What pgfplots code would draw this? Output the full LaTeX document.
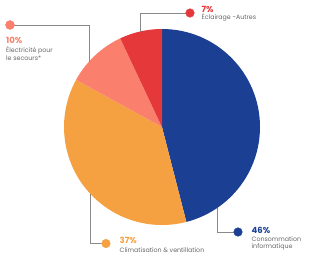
\documentclass[border=0pt]{standalone}
\usepackage{pgfplots}
\pgfplotsset{compat=1.18}
\usepackage{fontspec}
\setmainfont{Poppins}
\definecolor{cblue}{HTML}{1B3F93}
\definecolor{corange}{HTML}{F5A142}
\definecolor{csalmon}{HTML}{FA7F6C}
\definecolor{cred}{HTML}{E5383B}
\definecolor{cgrey}{HTML}{666666}
\definecolor{cline}{HTML}{8A8A8A}
\begin{document}
\begin{tikzpicture}
\begin{axis}[hide axis, scale only axis, width=330bp, height=255bp,
  xmin=0, xmax=330, ymin=0, ymax=255, y dir=reverse, clip=false]
% pie slices: 46, 37, 10, 7 (clockwise from top)
\fill[cblue]    (axis cs:162,127) -- ++(90:98bp)     arc[start angle=90,     end angle=-75.6,  radius=98bp] -- cycle;
\fill[corange]  (axis cs:162,127) -- ++(-75.6:98bp)  arc[start angle=-75.6,  end angle=-208.8, radius=98bp] -- cycle;
\fill[csalmon]  (axis cs:162,127) -- ++(-208.8:98bp) arc[start angle=-208.8, end angle=-244.8, radius=98bp] -- cycle;
\fill[cred]     (axis cs:162,127) -- ++(-244.8:98bp) arc[start angle=-244.8, end angle=-270,   radius=98bp] -- cycle;
% leader lines
\addplot[cline, line width=0.8pt] coordinates {(140,32) (140,13) (190,13)};
\addplot[cline, line width=0.8pt] coordinates {(10,25) (89,25) (89,62)};
\addplot[cline, line width=0.8pt] coordinates {(90,194) (90,243.5) (106,243.5)};
\addplot[cline, line width=0.8pt] coordinates {(217,208) (217,232) (238,232)};
% dots
\addplot[only marks, mark=*, mark size=4.3bp, cred, mark options={draw=cred, fill=cred}] coordinates {(190,13)};
\addplot[only marks, mark=*, mark size=4.5bp, csalmon, mark options={draw=csalmon, fill=csalmon}] coordinates {(10,25)};
\addplot[only marks, mark=*, mark size=4.3bp, corange, mark options={draw=corange, fill=corange}] coordinates {(106,243.5)};
\addplot[only marks, mark=*, mark size=4.3bp, cblue, mark options={draw=cblue, fill=cblue}] coordinates {(238,232)};
% labels
\node[anchor=west, inner sep=0pt, text=cred, font=\fontsize{8.5bp}{9bp}\selectfont\bfseries] at (axis cs:201.5,9) {7\%};
\node[anchor=west, inner sep=0pt, text=cgrey, font=\fontsize{6.3bp}{7bp}\selectfont] at (axis cs:201.5,17.5) {Éclairage -Autres};
\node[anchor=west, inner sep=0pt, text=csalmon, font=\fontsize{8.5bp}{9bp}\selectfont\bfseries] at (axis cs:6,40) {10\%};
\node[anchor=west, inner sep=0pt, text=cgrey, font=\fontsize{6.3bp}{7bp}\selectfont] at (axis cs:6,50.5) {Électricité pour};
\node[anchor=west, inner sep=0pt, text=cgrey, font=\fontsize{6.3bp}{7bp}\selectfont] at (axis cs:6,58) {le secours*};
\node[anchor=west, inner sep=0pt, text=corange, font=\fontsize{8.5bp}{9bp}\selectfont\bfseries] at (axis cs:119.5,240.5) {37\%};
\node[anchor=west, inner sep=0pt, text=cgrey, font=\fontsize{6.3bp}{7bp}\selectfont] at (axis cs:119.5,250) {Climatisation \& ventillation};
\node[anchor=west, inner sep=0pt, text=cblue, font=\fontsize{8.5bp}{9bp}\selectfont\bfseries] at (axis cs:251.5,230) {46\%};
\node[anchor=west, inner sep=0pt, text=cgrey, font=\fontsize{6.3bp}{7bp}\selectfont] at (axis cs:251.5,239) {Consommation};
\node[anchor=west, inner sep=0pt, text=cgrey, font=\fontsize{6.3bp}{7bp}\selectfont] at (axis cs:251.5,247) {informatique};
\end{axis}
\pgfresetboundingbox
\path[use as bounding box] (current axis.south west) rectangle (current axis.north east);
\end{tikzpicture}
\end{document}
